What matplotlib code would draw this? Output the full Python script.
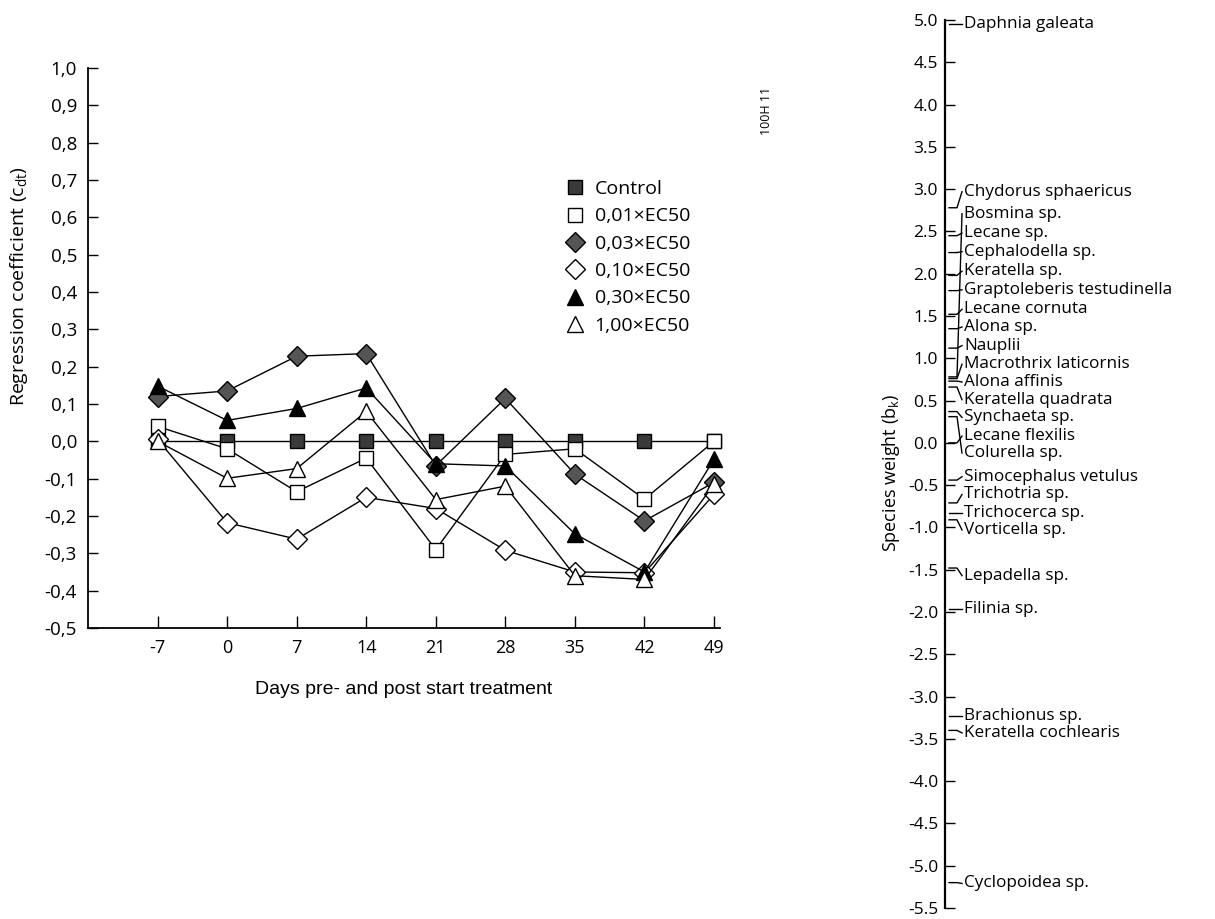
import numpy as np
import matplotlib
matplotlib.use('Agg')
import matplotlib.pyplot as plt
from matplotlib.lines import Line2D

plt.rcParams['font.family'] = ['Open Sans', 'DejaVu Sans']
plt.rcParams['mathtext.fontset'] = 'custom'
plt.rcParams['mathtext.rm'] = 'Open Sans'
plt.rcParams['mathtext.it'] = 'Open Sans:italic'

# principal response curves, dias antes/depois do tratamento
days = [-7, 0, 7, 14, 21, 28, 35, 42, 49]
control = [0.0, 0.0, 0.0, 0.0, 0.0, 0.0, 0.0, 0.0, 0.0]
ec001 = [0.04, -0.02, -0.135, -0.045, -0.29, -0.035, -0.02, -0.155, 0.0]
ec003 = [0.12, 0.135, 0.228, 0.235, -0.065, 0.115, -0.088, -0.213, -0.11]
ec010 = [0.005, -0.218, -0.262, -0.15, -0.18, -0.292, -0.35, -0.352, -0.142]
ec030 = [0.148, 0.056, 0.088, 0.143, -0.06, -0.066, -0.248, -0.35, -0.048]
ec100 = [0.0, -0.099, -0.073, 0.08, -0.156, -0.12, -0.36, -0.37, -0.115]
series_names = ['Control', '0,01×EC50', '0,03×EC50', '0,10×EC50', '0,30×EC50', '1,00×EC50']

# pesos das especies (eixo da direita)
species = ['Daphnia galeata', 'Chydorus sphaericus', 'Bosmina sp.', 'Lecane sp.',
           'Cephalodella sp.', 'Keratella sp.', 'Graptoleberis testudinella',
           'Lecane cornuta', 'Alona sp.', 'Nauplii', 'Macrothrix laticornis',
           'Alona affinis', 'Keratella quadrata', 'Synchaeta sp.', 'Lecane flexilis',
           'Colurella sp.', 'Simocephalus vetulus', 'Trichotria sp.', 'Trichocerca sp.',
           'Vorticella sp.', 'Lepadella sp.', 'Filinia sp.', 'Brachionus sp.',
           'Keratella cochlearis', 'Cyclopoidea sp.']
species_weight = [4.95, 2.78, 0.78, 2.45, 2.25, 1.98, 1.80, 1.52, 1.35, 1.12, 0.76,
                  0.73, 0.66, 0.37, 0.0, 0.31, -0.44, -0.71, -0.83, -0.91, -1.48,
                  -1.97, -3.23, -3.40, -5.20]

# posicao vertical dos rotulos (layout)
label_pos = [4.95, 2.97, 2.71, 2.48, 2.26, 2.03, 1.81, 1.58, 1.37, 1.15, 0.93,
             0.72, 0.51, 0.30, 0.08, -0.12, -0.40, -0.61, -0.83, -1.03, -1.57,
             -1.97, -3.23, -3.43, -5.21]

styles = [
    dict(marker='s', mfc='#3a3a3a', ms=10),
    dict(marker='s', mfc='white', ms=10),
    dict(marker='D', mfc='#555555', ms=10),
    dict(marker='D', mfc='white', ms=10),
    dict(marker='^', mfc='black', ms=11),
    dict(marker='^', mfc='white', ms=11),
]

W, H = 1215, 919
fig = plt.figure(figsize=(W / 100, H / 100), dpi=100)

# grafico da esquerda
ax = fig.add_axes([88 / W, 291 / H, 632 / W, 560 / H])
all_series = [control, ec001, ec003, ec010, ec030, ec100]
for i, (vals, st) in enumerate(zip(all_series, styles)):
    ax.plot(days, vals, color='black', lw=1.0, mec='black', mew=1.0,
            zorder=3 + i, clip_on=False, **st)

ax.set_xlim(-14, 49.6)
ax.set_ylim(-0.5, 1.0)
ax.spines['top'].set_visible(False)
ax.spines['right'].set_visible(False)
ax.spines['left'].set_linewidth(1.3)
ax.spines['bottom'].set_linewidth(1.3)

yt = np.round(np.arange(-0.5, 1.01, 0.1), 1) + 0.0
ax.set_yticks(yt)
ax.set_yticklabels([f"{v:.1f}".replace('.', ',') for v in yt], fontsize=13.5)
ax.set_xticks(days)
ax.set_xticklabels([str(d) for d in days], fontsize=13)
ax.tick_params(axis='y', direction='in', length=7, width=1, pad=8)
ax.tick_params(axis='x', direction='in', length=9, width=1, pad=8)

ax.set_xlabel('Days pre- and post start treatment', family='Liberation Sans', fontsize=14)
ax.xaxis.set_label_coords(0.5, -0.095)
ax.set_ylabel(r'Regression coefficient (c$_{\mathrm{dt}}$)', fontsize=14)
ax.yaxis.set_label_coords(-0.092, 0.61)

handles = [Line2D([], [], ls='none', mec='black', mew=1.0, **st) for st in styles]
ax.legend(handles, series_names, loc='upper left', bbox_to_anchor=(0.757, 0.80),
          frameon=False, fontsize=14, handlelength=0.9, handletextpad=0.55,
          labelspacing=0.48, borderpad=0, borderaxespad=0)

fig.text(767 / W, 1 - 111 / H, '100H 11', rotation=90, fontsize=9,
         ha='center', va='center')

# eixo da direita com pesos das especies
ax2 = fig.add_axes([945 / W, 11 / H, 270 / W, 888 / H])
ax2.set_xlim(0, 270)
ax2.set_ylim(-5.5, 5.0)
for s in ['top', 'right', 'bottom']:
    ax2.spines[s].set_visible(False)
ax2.spines['left'].set_linewidth(1.6)
ax2.set_xticks([])
rt = np.round(np.arange(-5.5, 5.01, 0.5), 1) + 0.0
ax2.set_yticks(rt)
ax2.set_yticklabels([f"{v:.1f}" for v in rt], fontsize=12.5)
ax2.tick_params(axis='y', direction='in', length=7, width=1, pad=5)
ax2.set_ylabel(r'Species weight (b$_{\mathrm{k}}$)', fontsize=13)
ax2.yaxis.set_label_coords(-0.16, 0.49)

for name, w, ly in zip(species, species_weight, label_pos):
    ax2.plot([4, 12, 17], [w, w, ly], color='black', lw=1.0, clip_on=False)
    ax2.text(19, ly, name, fontsize=12.3, va='center', ha='left')

fig.savefig('out.png', dpi=100)
